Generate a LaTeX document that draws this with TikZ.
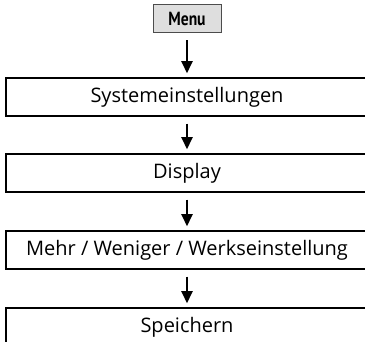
\documentclass[tikz,border=0pt]{standalone}
\usepackage{fontspec}
\setmainfont{Open Sans}
\newfontfamily\keyfont{PT Sans}
\usetikzlibrary{arrows.meta}

\begin{document}
\begin{tikzpicture}[x=1pt, y=-1pt,
    >={Triangle[width=11pt,length=12pt]},
    menukey/.style={draw=black!70, fill=black!13, line width=1pt,
      minimum width=68pt, minimum height=28pt, inner sep=0pt,
      font=\keyfont\bfseries\fontsize{19}{19}\selectfont},
    stepbox/.style={draw, line width=1.5pt, minimum width=362pt,
      minimum height=38pt, inner sep=0pt,
      font=\fontsize{20}{22}\selectfont},
    arr/.style={->, line width=2pt, shorten <=7pt, shorten >=4pt}]
  % page frame, the boxes run past the right edge
  \useasboundingbox (0,0) rectangle (365,342);
  \clip (0,0) rectangle (365,342);

  % key and menu steps
  \node[menukey] (menu) at (187,19) {\scalebox{0.82}[1]{Menu}};
  \node[stepbox] (sys)  at (187,97)  {Systemeinstellungen};
  \node[stepbox] (disp) at (187,173) {Display};
  \node[stepbox] (mode) at (187,250) {Mehr / Weniger / Werkseinstellung};
  \node[stepbox] (save) at (187,327) {Speichern};

  % arrows between the steps
  \draw[arr] (menu) -- (sys);
  \draw[arr] (sys)  -- (disp);
  \draw[arr] (disp) -- (mode);
  \draw[arr] (mode) -- (save);
\end{tikzpicture}
\end{document}
